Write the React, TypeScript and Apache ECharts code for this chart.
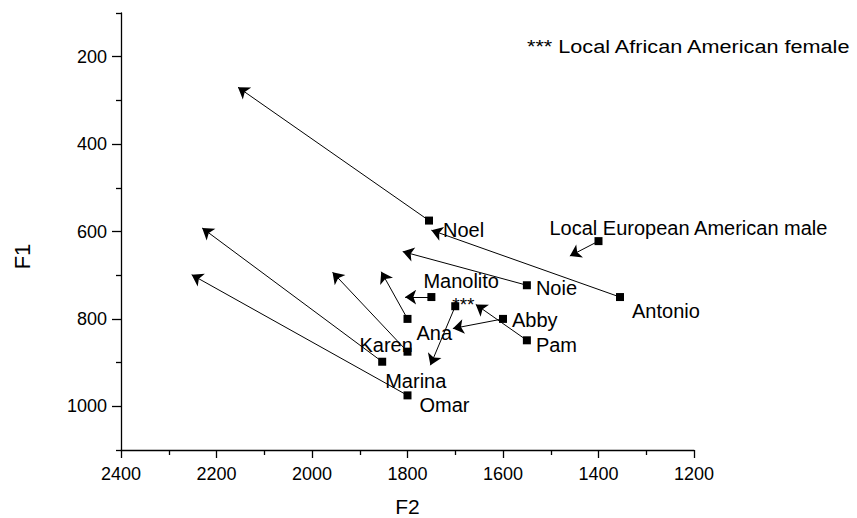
import React, { useEffect, useRef } from "react";
import * as echarts from "echarts";

// Speaker labels
const speakers = [
  "Noel",
  "Antonio",
  "Local European American male",
  "Noie",
  "Manolito",
  "***",
  "Abby",
  "Pam",
  "Ana",
  "Karen",
  "Marina",
  "Omar",
];
// Measured vowel positions (square markers): F2 and F1 in Hz
const f2Start = [1755, 1355, 1400, 1550, 1750, 1700, 1600, 1550, 1800, 1800, 1853, 1800];
const f1Start = [575, 750, 622, 723, 750, 771, 800, 849, 800, 875, 898, 975];
// Arrow end points
const f2End = [2155, 1750, 1460, 1810, 1805, 1752, 1705, 1657, 1855, 1957, 2230, 2252];
const f1End = [270, 597, 656, 646, 750, 906, 822, 767, 692, 693, 592, 699];

// Axis ticks
const f1MajorTicks = [200, 400, 600, 800, 1000];
const f1MinorTicks = [100, 300, 500, 700, 900, 1100];

const legendNote = "*** Local African American female";

// label offsets (style only): [dx, dy] from marker
const labelOffsets: number[][] = [
  [10, 9],
  [8, 14],
  [-53, -13],
  [5, 3],
  [-12, -16],
  [-7, -2],
  [5, 1],
  [5, 5],
  [5, 14],
  [-52, -7],
  [-1, 19],
  [8, 10],
];

const FONT = "Liberation Sans, Arial, sans-serif";

export default function App() {
  const ref = useRef<HTMLDivElement>(null);
  useEffect(() => {
    if (!ref.current) return;
    document.body.style.margin = "0";
    document.body.style.overflow = "hidden";
    const chart = echarts.init(ref.current, undefined, { renderer: "svg" });
    const points = speakers.map((name, i) => ({
      name,
      value: [f2Start[i], f1Start[i]],
      label:
        name === "***"
          ? { offset: labelOffsets[i], fontSize: 19, lineHeight: 9 }
          : { offset: labelOffsets[i] },
    }));
    const arrows = speakers.map((name, i) => ({
      name,
      coords: [
        [f2Start[i], f1Start[i]],
        [f2End[i], f1End[i]],
      ],
    }));
    const plain = (v: number) => String(v);
    chart.setOption({
      animation: false,
      backgroundColor: "#ffffff",
      grid: {
        left: 121,
        right: 163,
        top: 13,
        bottom: 68,
        containLabel: false,
        outerBoundsMode: "none",
      },
      xAxis: {
        type: "value",
        inverse: true,
        min: 1200,
        max: 2400,
        interval: 200,
        name: "F2",
        nameLocation: "middle",
        nameGap: 46,
        nameTextStyle: { fontFamily: FONT, fontSize: 21, color: "#000" },
        axisLine: { show: true, lineStyle: { color: "#000", width: 1.3 } },
        axisTick: { show: true, inside: false, length: 8, lineStyle: { color: "#000", width: 1.3 } },
        minorTick: { show: true, splitNumber: 2, length: 5, lineStyle: { color: "#000", width: 1.3 } },
        axisLabel: { fontFamily: FONT, fontSize: 18, color: "#000", margin: 15, formatter: plain },
        splitLine: { show: false },
        minorSplitLine: { show: false },
      },
      yAxis: [
        {
          type: "value",
          inverse: true,
          min: 100,
          max: 1100,
          name: "F1",
          nameLocation: "middle",
          nameGap: 88,
          nameTextStyle: { fontFamily: FONT, fontSize: 22, color: "#000", padding: [0, 50, 0, 0] },
          axisLine: { show: true, lineStyle: { color: "#000", width: 1.3 } },
          axisTick: {
            show: true,
            length: 9,
            customValues: f1MajorTicks,
            lineStyle: { color: "#000", width: 1.3 },
          },
          axisLabel: {
            fontFamily: FONT,
            fontSize: 18,
            color: "#000",
            margin: 14,
            customValues: f1MajorTicks,
            formatter: plain,
          },
          splitLine: { show: false },
        },
        {
          type: "value",
          inverse: true,
          min: 100,
          max: 1100,
          position: "left",
          axisLine: { show: false },
          axisTick: {
            show: true,
            length: 5,
            customValues: f1MinorTicks,
            lineStyle: { color: "#000", width: 1.3 },
          },
          axisLabel: { show: false },
          splitLine: { show: false },
        },
      ],
      graphic: [
        {
          type: "text",
          x: 527,
          y: 37,
          scaleX: 1.14,
          style: { text: legendNote, fontFamily: FONT, fontSize: 19, fill: "#000" },
        },
      ],
      series: [
        {
          type: "lines",
          coordinateSystem: "cartesian2d",
          xAxisIndex: 0,
          yAxisIndex: 0,
          symbol: ["none", "arrow"],
          symbolSize: 11,
          lineStyle: { color: "#000", width: 1, opacity: 1 },
          data: arrows,
          silent: true,
          z: 2,
        },
        {
          type: "scatter",
          xAxisIndex: 0,
          yAxisIndex: 0,
          symbol: "rect",
          symbolSize: 8,
          itemStyle: { color: "#000", opacity: 1 },
          label: {
            show: true,
            position: "right",
            distance: 0,
            formatter: "{b}",
            fontFamily: FONT,
            fontSize: 20,
            color: "#000",
          },
          data: points,
          z: 3,
        },
      ],
    });
    return () => chart.dispose();
  }, []);
  return <div ref={ref} style={{ width: 857, height: 518 }} />;
}
